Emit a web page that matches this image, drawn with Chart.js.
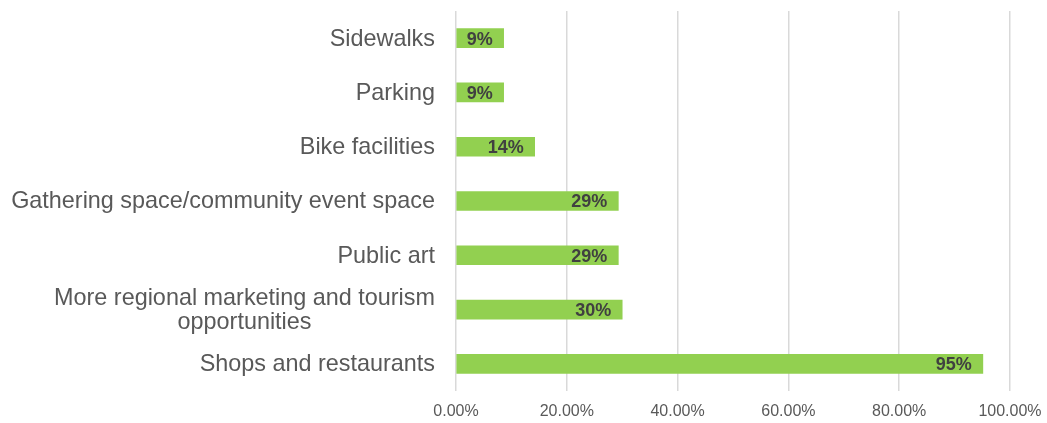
<!DOCTYPE html>
<html>
<head>
<meta charset="utf-8">
<script src="https://cdn.jsdelivr.net/npm/chart.js@4"></script>
<style>
    body { margin: 0; background: #fff; }
    #wrap { width: 1047px; height: 423px; position: relative; }
</style>
</head>
<body>
<div id="wrap"><canvas id="chart"></canvas></div>
<script>
const categories = [
    'Sidewalks',
    'Parking',
    'Bike facilities',
    'Gathering space/community event space',
    'Public art',
    ['More regional marketing and tourism', 'opportunities'],
    'Shops and restaurants'
];
const shares = [8.6, 8.6, 14.2, 29.3, 29.3, 30.0, 95.1];
const xTicks = [0, 20, 40, 60, 80, 100];

const FONT = '"Liberation Sans", Arial, sans-serif';

// draws the category labels (centred lines, block right-aligned) and the value labels
const labelPlugin = {
    id: 'labels',
    afterDatasetsDraw(chart) {
        const ctx = chart.ctx;
        const yScale = chart.scales.y;
        ctx.save();

        // category labels
        ctx.font = '23.4px ' + FONT;
        ctx.fillStyle = '#595959';
        ctx.textBaseline = 'middle';
        const right = chart.chartArea.left - 21;
        categories.forEach((cat, i) => {
            const lines = Array.isArray(cat) ? cat : [cat];
            const y = yScale.getPixelForValue(i);
            const widest = Math.max(...lines.map(l => ctx.measureText(l).width));
            const mid = right - widest / 2;
            const lh = 24;
            lines.forEach((line, j) => {
                ctx.textAlign = 'center';
                ctx.fillText(line, mid, y + 1 + (j - (lines.length - 1) / 2) * lh);
            });
        });

        // value labels, inside end
        ctx.font = 'bold 18px ' + FONT;
        ctx.fillStyle = '#404040';
        ctx.textAlign = 'right';
        const meta = chart.getDatasetMeta(0);
        meta.data.forEach((bar, i) => {
            ctx.fillText(Math.round(shares[i]) + '%', bar.x - 11, bar.y + 1.5);
        });
        ctx.restore();
    }
};

new Chart(document.getElementById('chart'), {
    type: 'bar',
    data: {
        labels: categories,
        datasets: [{
            data: shares,
            backgroundColor: '#92d050',
            borderWidth: 0,
            barThickness: 19
        }]
    },
    options: {
        indexAxis: 'y',
        responsive: true,
        maintainAspectRatio: false,
        animation: false,
        layout: { padding: { top: 11, left: 10, right: 37, bottom: 0 } },
        plugins: {
            legend: { display: false },
            tooltip: { enabled: false }
        },
        scales: {
            x: {
                min: 0,
                max: 100,
                afterBuildTicks: scale => {
                    scale.ticks = xTicks.map(v => ({ value: v }));
                },
                afterFit: scale => {
                    scale.height = 32;
                    scale.paddingLeft = 0;
                    scale.paddingRight = 0;
                },
                grid: { color: '#d9d9d9', lineWidth: 1.5, drawTicks: false },
                border: { display: false },
                ticks: {
                    padding: 11,
                    color: '#595959',
                    font: { family: FONT, size: 16 },
                    callback: v => v.toFixed(2) + '%'
                }
            },
            y: {
                grid: { display: false },
                border: { display: false },
                ticks: { display: false },
                afterFit: scale => { scale.width = 446; }
            }
        }
    },
    plugins: [labelPlugin]
});
</script>
</body>
</html>
